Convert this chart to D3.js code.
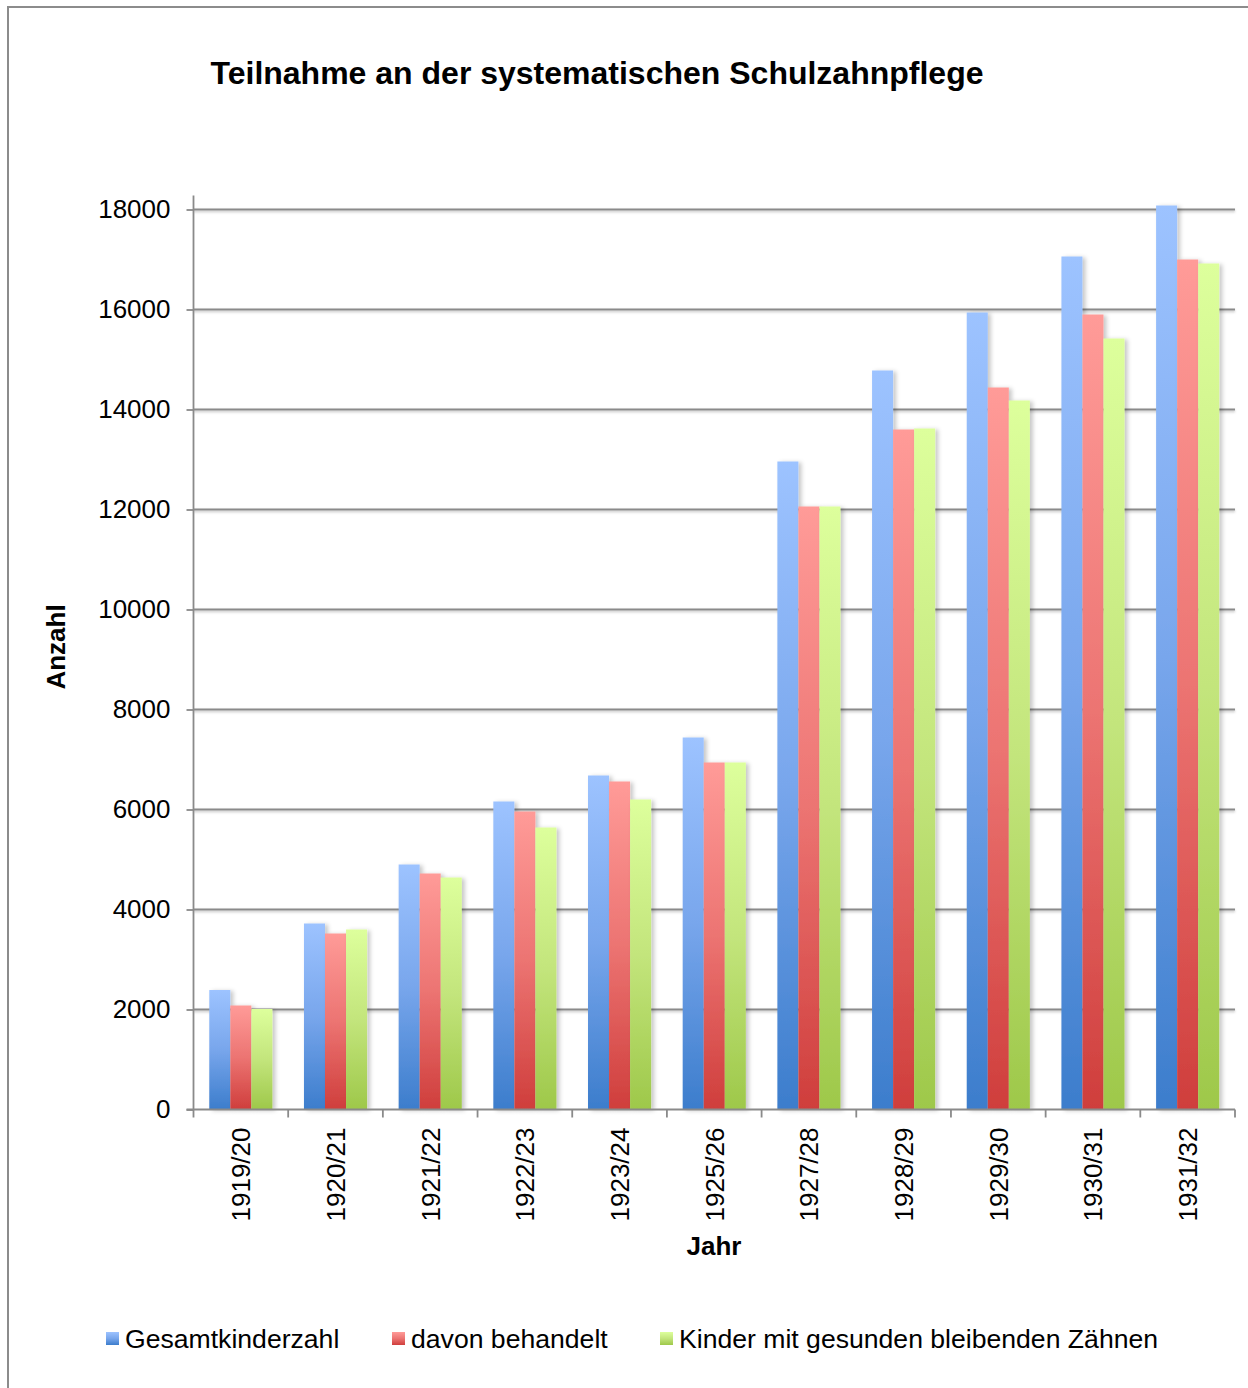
<!DOCTYPE html>
<html>
<head>
<meta charset="utf-8">
<script src="https://cdn.jsdelivr.net/npm/d3@7"></script>
<style>
  html, body { margin: 0; padding: 0; background: #fff; }
  svg { display: block; font-family: "Liberation Sans", Arial, sans-serif; }
</style>
</head>
<body>
<svg id="chart" width="1248" height="1388"></svg>
<script>
// School years (categories)
const years = ["1919/20", "1920/21", "1921/22", "1922/23", "1923/24", "1925/26",
               "1927/28", "1928/29", "1929/30", "1930/31", "1931/32"];

// Series names
const seriesNames = ["Gesamtkinderzahl", "davon behandelt", "Kinder mit gesunden bleibenden Zähnen"];

// Series values, one per school year
const gesamt    = [2390, 3720, 4900, 6160, 6680, 7440, 12960, 14780, 15940, 17060, 18080];
const behandelt = [2080, 3520, 4720, 5960, 6560, 6940, 12060, 13600, 14440, 15900, 17000];
const gesund    = [2010, 3600, 4640, 5640, 6200, 6940, 12060, 13620, 14180, 15420, 16920];

// Y axis ticks
const yTicks = [0, 2000, 4000, 6000, 8000, 10000, 12000, 14000, 16000, 18000];

const seriesValues = [gesamt, behandelt, gesund];
const gradients = [
  { id: "gBlue",  top: "#9dc3ff", mid: "#78a6ec", bottom: "#3c7dcc" },
  { id: "gRed",   top: "#ff9b98", mid: "#ec7472", bottom: "#cf3e3c" },
  { id: "gGreen", top: "#ddff9c", mid: "#c3e57c", bottom: "#9ec84a" }
];

const svg = d3.select("#chart");
const defs = svg.append("defs");

gradients.forEach(g => {
  const lg = defs.append("linearGradient")
    .attr("id", g.id).attr("x1", 0).attr("y1", 0).attr("x2", 0).attr("y2", 1);
  lg.append("stop").attr("offset", "0%").attr("stop-color", g.top);
  lg.append("stop").attr("offset", "50%").attr("stop-color", g.mid);
  lg.append("stop").attr("offset", "100%").attr("stop-color", g.bottom);
});

const shadow = defs.append("filter").attr("id", "barShadow")
  .attr("x", "-20%").attr("y", "-5%").attr("width", "160%").attr("height", "115%");
shadow.append("feDropShadow")
  .attr("dx", 3).attr("dy", 1).attr("stdDeviation", 2.2)
  .attr("flood-color", "#000").attr("flood-opacity", 0.22);

const lineShadow = defs.append("filter").attr("id", "lineShadow")
  .attr("x", "-5%").attr("y", "-200%").attr("width", "110%").attr("height", "500%");
lineShadow.append("feDropShadow")
  .attr("dx", 0).attr("dy", 1.5).attr("stdDeviation", 0.8)
  .attr("flood-color", "#000").attr("flood-opacity", 0.25);

// Outer frame
svg.append("rect")
  .attr("x", 8).attr("y", 7).attr("width", 1300).attr("height", 1400)
  .attr("fill", "none").attr("stroke", "#8c8c8c").attr("stroke-width", 2);

const plot = { left: 193.5, right: 1235, top: 209.5, bottom: 1109.5 };

const x0 = d3.scaleBand().domain(years).range([plot.left, plot.right]).padding(0);
const bw = x0.bandwidth();
const groupW = bw * 3 / 4.5;
const x1 = d3.scaleBand().domain(d3.range(3))
  .range([(bw - groupW) / 2, (bw + groupW) / 2]).padding(0);
const y = d3.scaleLinear().domain([0, 18000]).range([plot.bottom, plot.top]);

// Gridlines
const grid = svg.append("g").attr("filter", "url(#lineShadow)");
grid.selectAll("line").data(yTicks.filter(d => d > 0)).join("line")
  .attr("x1", plot.left).attr("x2", plot.right)
  .attr("y1", d => y(d)).attr("y2", d => y(d))
  .attr("stroke", "#8a8a8a").attr("stroke-width", 1.8);

// Bars
const groups = svg.append("g").selectAll("g").data(years).join("g")
  .attr("transform", d => `translate(${x0(d)},0)`);

groups.selectAll("rect")
  .data((d, i) => seriesValues.map((vals, s) => ({ s, v: vals[i] })))
  .join("rect")
  .attr("x", d => x1(d.s))
  .attr("width", x1.bandwidth())
  .attr("y", d => y(d.v))
  .attr("height", d => y(0) - y(d.v))
  .attr("fill", d => `url(#${gradients[d.s].id})`)
  .attr("filter", "url(#barShadow)");

// Y axis
const yAxis = svg.append("g")
  .attr("transform", `translate(${plot.left},0)`)
  .call(d3.axisLeft(y).tickValues(yTicks).tickSize(7).tickPadding(16).tickSizeOuter(0)
        .tickFormat(d3.format("d")));
yAxis.select(".domain").attr("stroke", "#8a8a8a").attr("stroke-width", 1.8)
  .attr("d", `M0,${plot.top - 14}V${plot.bottom}`);
yAxis.selectAll(".tick line").attr("stroke", "#8a8a8a").attr("stroke-width", 1.8);
yAxis.selectAll(".tick text")
  .attr("font-size", 26).attr("fill", "#000")
  .attr("font-family", "'Liberation Sans', Arial, sans-serif");

// X axis
const xAxis = svg.append("g")
  .attr("transform", `translate(0,${plot.bottom})`);
xAxis.append("line")
  .attr("x1", plot.left - 7).attr("x2", plot.right)
  .attr("stroke", "#8a8a8a").attr("stroke-width", 1.8);
const boundaries = years.map(d => x0(d)).concat([plot.right]);
xAxis.selectAll("line.tick").data(boundaries).join("line")
  .attr("class", "tick")
  .attr("x1", d => d).attr("x2", d => d).attr("y1", 0).attr("y2", 8)
  .attr("stroke", "#8a8a8a").attr("stroke-width", 1.8);
xAxis.selectAll("text").data(years).join("text")
  .attr("transform", d => `translate(${x0(d) + bw / 2},18) rotate(-90)`)
  .attr("text-anchor", "end").attr("dy", "0.36em")
  .attr("font-size", 26).attr("fill", "#000")
  .text(d => d);

// Title and axis titles
svg.append("text")
  .attr("x", 597).attr("y", 84).attr("text-anchor", "middle")
  .attr("font-size", 32).attr("font-weight", "bold")
  .text("Teilnahme an der systematischen Schulzahnpflege");

svg.append("text")
  .attr("transform", "translate(65,647) rotate(-90)")
  .attr("text-anchor", "middle")
  .attr("font-size", 26).attr("font-weight", "bold")
  .text("Anzahl");

svg.append("text")
  .attr("x", 714).attr("y", 1255).attr("text-anchor", "middle")
  .attr("font-size", 26).attr("font-weight", "bold")
  .text("Jahr");

// Legend
const legendX = [106, 392, 660];
const legend = svg.append("g").selectAll("g").data(seriesNames).join("g")
  .attr("transform", (d, i) => `translate(${legendX[i]},1332)`);
legend.append("rect")
  .attr("width", 13).attr("height", 13)
  .attr("fill", (d, i) => `url(#${gradients[i].id})`);
legend.append("text")
  .attr("x", 19).attr("y", 16)
  .attr("font-size", 26.6).attr("fill", "#000")
  .text(d => d);
</script>
</body>
</html>
